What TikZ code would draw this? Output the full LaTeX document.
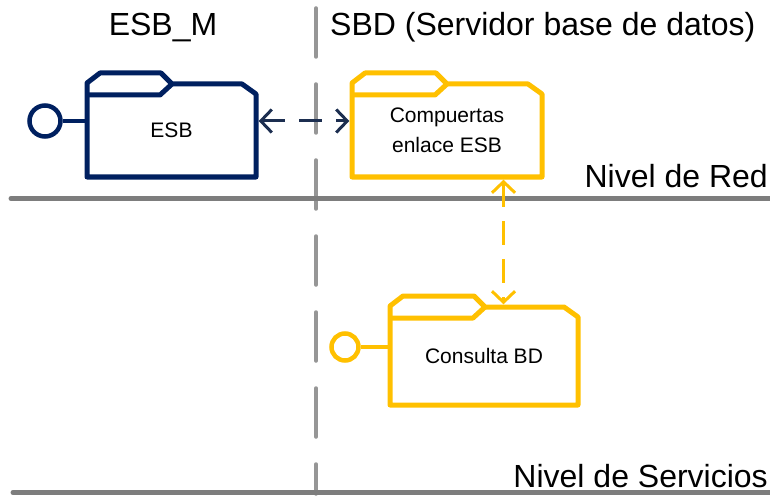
\documentclass[tikz,border=0pt]{standalone}
\usepackage{fontspec}
\setmainfont{Liberation Sans}
\usetikzlibrary{arrows.meta,calc}
\definecolor{navy}{RGB}{0,32,96}
\definecolor{navyarrow}{RGB}{28,46,80}
\definecolor{gold}{RGB}{255,192,0}
\definecolor{sepgray}{RGB}{150,150,150}
\definecolor{levelgray}{RGB}{125,125,125}
\newcommand{\folderoutline}[6]{%
  \draw[#6, line width=5pt, line join=round] (#1,#4) -- (#1,#2+10) -- (#1+13,#2) -- (#5-11,#2) -- (#5,#2+11) -- (#3-14,#2+11) -- (#3,#2+21) -- (#3,#4) -- cycle;
  \draw[#6, line width=5pt, line join=round] (#1,#2+22) -- (#5-12,#2+22) -- (#5,#2+11);
}
\tikzset{
  bigtext/.style={font=\fontsize{32}{38}\selectfont, inner sep=0pt},
  boxtext/.style={font=\fontsize{21}{30}\selectfont, inner sep=0pt, align=center},
  lolli/.style={circle, line width=4.5pt, inner sep=0pt},
  sepline/.style={draw=sepgray, line width=3.5pt, line cap=round, dash pattern=on 49pt off 27pt},
  levelline/.style={draw=levelgray, line width=5pt, line cap=round},
  barb/.tip={Straight Barb[length=11pt,width=23pt]},
  navyconn/.style={draw=navyarrow, line width=3pt, dash pattern=on 23pt off 14pt, barb-barb, shorten <=2.5pt, shorten >=2.5pt},
  goldconn/.style={draw=gold, line width=3pt, dash pattern=on 24pt off 14pt, barb-barb, shorten <=2.5pt, shorten >=2.5pt},
}
\begin{document}
\begin{tikzpicture}[x=1pt,y=-1pt]
\useasboundingbox (0,0) rectangle (770,497);
% separator
\coordinate (septop) at (316,8);
\coordinate (sepbot) at (316,494);
\draw[sepline] (septop) -- (sepbot);
% level lines
\coordinate (redL) at (11,198.5);
\coordinate (redR) at (772,198.5);
\coordinate (servL) at (13,492.5);
\coordinate (servR) at (772,492.5);
\draw[levelline] (redL) -- (redR);
\draw[levelline] (servL) -- (servR);
% headers and level labels
\node[bigtext, anchor=base] (hesbm) at (163,36) {ESB\_M};
\node[bigtext, anchor=base west] (hsbd) at (330,36) {SBD (Servidor base de datos)};
\node[bigtext, anchor=base east] (lred) at (768,187) {Nivel de Red};
\node[bigtext, anchor=base east] (lserv) at (768,487) {Nivel de Servicios};
% folders
\folderoutline{87}{73}{256}{177}{172}{navy}
\node[boxtext, minimum width=169pt, minimum height=93pt] (esb) at (171.5,130.5) {ESB};
\folderoutline{352}{73}{542}{177}{447}{gold}
\node[boxtext, minimum width=190pt, minimum height=93pt] (cmp) at (447,130.5) {Compuertas\\enlace ESB};
\folderoutline{390}{296}{578}{405}{485}{gold}
\node[boxtext, minimum width=188pt, minimum height=98pt] (cbd) at (484,356) {Consulta BD};
% lollipops
\node[lolli, draw=navy, minimum size=31pt] (esbport) at (45,121) {};
\draw[navy, line width=4.5pt] (esbport) -- ([yshift=9.5pt]esb.west);
\node[lolli, draw=gold, minimum size=27pt] (cbdport) at (345,347) {};
\draw[gold, line width=4.5pt] (cbdport) -- ([yshift=9pt]cbd.west);
% connectors
\draw[navyconn] ([yshift=9.5pt]esb.east) -- ([yshift=9.5pt]cmp.west);
\draw[goldconn] ([xshift=56.5pt]cmp.south) -- ([xshift=19.5pt]cbd.north);
\end{tikzpicture}
\end{document}
